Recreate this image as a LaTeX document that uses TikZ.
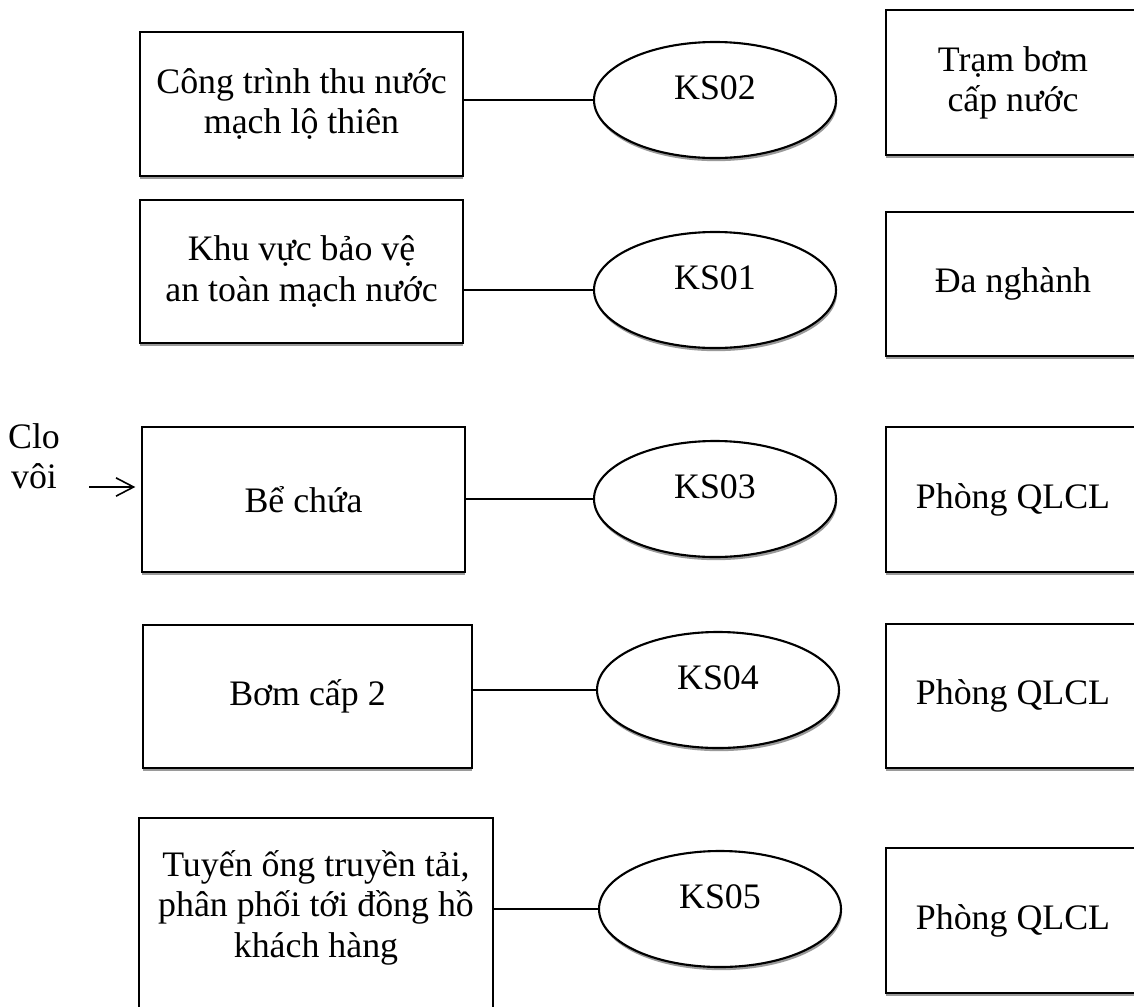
\documentclass[tikz,border=0pt]{standalone}
\usepackage{fontspec}
\setmainfont{Liberation Serif}
\usepackage{tikz}
\usetikzlibrary{positioning,shapes.geometric,shadows,arrows.meta}
\definecolor{ink}{HTML}{000000}
\definecolor{shade}{HTML}{9A9A9A}

\tikzset{
  txt/.style={font={\fontsize{10.2pt}{11.4pt}\selectfont},align=center,text=ink},
  box/.style={txt,draw=ink,line width=0.6pt,fill=white,rectangle,inner sep=0pt,
    drop shadow={shadow xshift=0pt,shadow yshift=-0.9pt,fill=shade,opacity=1}},
  ks/.style={txt,draw=ink,line width=0.6pt,fill=white,ellipse,inner sep=0pt,
    minimum width=2.42cm,minimum height=1.16cm,text depth=0.24cm,
    drop shadow={shadow xshift=0.3pt,shadow yshift=-0.9pt,fill=shade,opacity=1}},
  link/.style={draw=ink,line width=0.45pt}
}

\begin{document}
\begin{tikzpicture}
    \clip (0,0) rectangle (11.34,10.06);
    \fill[white] (0,0) rectangle (11.34,10.06);
    % left column
    \node[box,minimum width=3.23cm,minimum height=1.44cm] (L1) at (3.015,9.02) {Công trình thu nước\\mạch lộ thiên};
    \node[box,minimum width=3.23cm,minimum height=1.43cm] (L2) at (3.015,7.345) {Khu vực bảo vệ\\an toàn mạch nước};
    \node[box,minimum width=3.23cm,minimum height=1.45cm] (L3) at (3.035,5.065) {Bể chứa};
    \node[box,minimum width=3.29cm,minimum height=1.43cm] (L4) at (3.075,3.095) {Bơm cấp 2};
    \node[box,minimum width=3.54cm,minimum height=2.12cm] (L5) at (3.16,0.82) {Tuyến ống truyền tải,\\phân phối tới đồng hồ\\khách hàng\\ \mbox{}};
    % sampling points
    \node[ks] (E1) at (7.15,9.06) {KS02};
    \node[ks] (E2) at (7.15,7.16) {KS01};
    \node[ks] (E3) at (7.15,5.07) {KS03};
    \node[ks] (E4) at (7.18,3.16) {KS04};
    \node[ks] (E5) at (7.20,0.97) {KS05};
    % right column
    \node[box,minimum width=2.54cm,minimum height=1.45cm] (R1) at (10.13,9.235) {Trạm bơm\\cấp nước};
    \node[box,minimum width=2.54cm,minimum height=1.44cm] (R2) at (10.13,7.22) {Đa nghành};
    \node[box,minimum width=2.54cm,minimum height=1.45cm] (R3) at (10.13,5.065) {Phòng QLCL};
    \node[box,minimum width=2.54cm,minimum height=1.44cm] (R4) at (10.13,3.10) {Phòng QLCL};
    \node[box,minimum width=2.54cm,minimum height=1.45cm] (R5) at (10.13,0.855) {Phòng QLCL};
    \foreach \i in {1,...,5}
      \draw[link] (E\i.west) -- (E\i.west -| L\i.east);
    % chlorine input
    \node[txt] (clo) at (0.34,5.50) {Clo\\vôi};
    \coordinate (cloin) at (0.89,5.19);
    \draw[link,-{Straight Barb[length=5pt,width=5.2pt]},shorten >=1.6pt] (cloin) -- (cloin -| L3.west);
  \end{tikzpicture}
\end{document}
